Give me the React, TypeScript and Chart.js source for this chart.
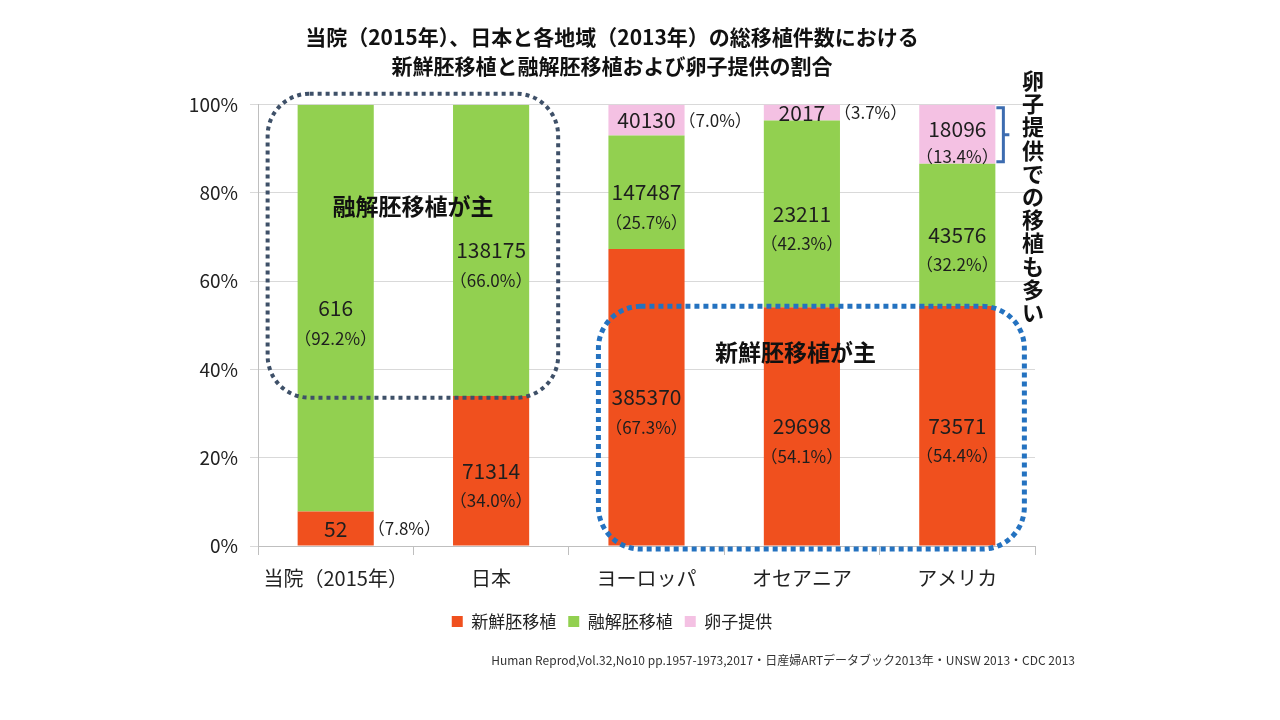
import React, { useEffect, useRef } from 'react';
import { Chart, registerables } from 'chart.js';

Chart.register(...registerables);

const categories = ['当院（2015年）', '日本', 'ヨーロッパ', 'オセアニア', 'アメリカ'];
const seriesNames = ['新鮮胚移植', '融解胚移植', '卵子提供'];
const freshPct = [7.8, 34.0, 67.3, 54.1, 54.4];
const frozenPct = [92.2, 66.0, 25.7, 42.3, 32.2];
const eggPct = [0, 0, 7.0, 3.7, 13.4];
const freshCount: (number | null)[] = [52, 71314, 385370, 29698, 73571];
const frozenCount: (number | null)[] = [616, 138175, 147487, 23211, 43576];
const eggCount: (number | null)[] = [null, null, 40130, 2017, 18096];
const titleLines = [
  '当院（2015年）、日本と各地域（2013年）の総移植件数における',
  '新鮮胚移植と融解胚移植および卵子提供の割合',
];
const sourceText =
  'Human Reprod,Vol.32,No10 pp.1957-1973,2017・日産婦ARTデータブック2013年・UNSW 2013・CDC 2013';
const noteFrozen = '融解胚移植が主';
const noteFresh = '新鮮胚移植が主';
const noteEgg = '卵子提供での移植も多い';

const FONT = '"Noto Sans CJK JP", "Noto Sans", sans-serif';
const colors = ['#f0501e', '#92d050', '#f4c1e3'];

const labelPlugin = {
  id: 'segLabels',
  afterDatasetsDraw(chart: any) {
    const ctx = chart.ctx;
    const counts = [freshCount, frozenCount, eggCount];
    const pcts = [freshPct, frozenPct, eggPct];
    ctx.save();
    ctx.fillStyle = '#1e1e1e';
    for (let d = 0; d < 3; d++) {
      const meta = chart.getDatasetMeta(d);
      meta.data.forEach((el: any, j: number) => {
        const c = counts[d][j];
        if (c == null) return;
        const top = Math.max(el.y, chart.chartArea.top);
        const bottom = el.base;
        const h = bottom - top;
        const cy = (top + bottom) / 2;
        const pctText = '（' + pcts[d][j].toFixed(1) + '%）';
        ctx.textBaseline = 'middle';
        if (h < 45) {
          ctx.font = '21px ' + FONT;
          ctx.textAlign = 'center';
          ctx.fillText(String(c), el.x, cy);
          ctx.font = '17px ' + FONT;
          ctx.textAlign = 'left';
          ctx.fillText(pctText, el.x + el.width / 2 - 6, cy);
        } else if (h < 80) {
          ctx.font = '21px ' + FONT;
          ctx.textAlign = 'center';
          ctx.fillText(String(c), el.x, cy - 5);
          ctx.font = '17px ' + FONT;
          ctx.fillText(pctText, el.x, cy + 22);
        } else {
          ctx.font = '21px ' + FONT;
          ctx.textAlign = 'center';
          ctx.fillText(String(c), el.x, cy);
          ctx.font = '17px ' + FONT;
          ctx.fillText(pctText, el.x, cy + 30);
        }
      });
    }
    ctx.restore();
  },
};

const annotationPlugin = {
  id: 'notes',
  afterDatasetsDraw(chart: any) {
    const ctx = chart.ctx;
    const x = chart.scales.x;
    const y = chart.scales.y;
    const area = chart.chartArea;
    const fresh = chart.getDatasetMeta(0).data;
    const egg = chart.getDatasetMeta(2).data;
    const half = fresh[0].width / 2;
    ctx.save();
    // box 1 (frozen main)
    ctx.strokeStyle = '#3e5068';
    ctx.lineWidth = 4;
    ctx.setLineDash([4, 4]);
    const l1 = x.getPixelForValue(0) - half - 30;
    const r1 = x.getPixelForValue(1) + half + 29;
    const t1 = y.getPixelForValue(100) - 11;
    const b1 = y.getPixelForValue(33.6);
    ctx.beginPath();
    ctx.roundRect(l1, t1, r1 - l1, b1 - t1, 42);
    ctx.stroke();
    // box 2 (fresh main)
    ctx.strokeStyle = '#2472c0';
    ctx.lineWidth = 5;
    ctx.setLineDash([5, 4]);
    const l2 = x.getPixelForValue(2) - half - 10;
    const r2 = x.getPixelForValue(4) + half + 29;
    const t2 = y.getPixelForValue(54.3);
    const b2 = y.getPixelForValue(0) + 3;
    ctx.beginPath();
    ctx.roundRect(l2, t2, r2 - l2, b2 - t2, 42);
    ctx.stroke();
    ctx.setLineDash([]);
    // notes text
    ctx.fillStyle = '#111';
    ctx.font = 'bold 23px ' + FONT;
    ctx.textAlign = 'center';
    ctx.textBaseline = 'middle';
    ctx.fillText(noteFrozen, (l1 + r1) / 2, y.getPixelForValue(77));
    ctx.fillText(noteFresh, (l2 + r2) / 2 - 16, y.getPixelForValue(44));
    // bracket
    const eg = egg[4];
    const bx = eg.x + eg.width / 2 + 8;
    const bt = Math.max(eg.y, area.top) + 3;
    const bb = eg.base - 2;
    ctx.strokeStyle = '#3d6cb0';
    ctx.lineWidth = 3;
    ctx.beginPath();
    ctx.moveTo(bx - 7, bt);
    ctx.lineTo(bx, bt);
    ctx.lineTo(bx, bb);
    ctx.lineTo(bx - 7, bb);
    ctx.moveTo(bx, (bt + bb) / 2);
    ctx.lineTo(bx + 6, (bt + bb) / 2);
    ctx.stroke();
    // vertical text
    ctx.fillStyle = '#111';
    ctx.font = 'bold 22px ' + FONT;
    const vx = area.right - 2;
    let vy = y.getPixelForValue(100) - 24;
    for (const ch of noteEgg) {
      ctx.fillText(ch, vx, vy);
      vy += 23.2;
    }
    // source
    ctx.fillStyle = '#333';
    ctx.font = '12px ' + FONT;
    ctx.textAlign = 'right';
    ctx.fillText(sourceText, area.right + 40, y.getPixelForValue(0) + 114);
    ctx.restore();
  },
};

export default function App() {
  const ref = useRef<HTMLCanvasElement | null>(null);
  useEffect(() => {
    if (!ref.current) return;
    const chart = new Chart(ref.current, {
      type: 'bar',
      data: {
        labels: categories,
        datasets: [
          { label: seriesNames[0], data: freshPct, backgroundColor: colors[0] },
          { label: seriesNames[1], data: frozenPct, backgroundColor: colors[1] },
          { label: seriesNames[2], data: eggPct, backgroundColor: colors[2] },
        ],
      },
      options: {
        animation: false,
        responsive: true,
        maintainAspectRatio: false,
        layout: { padding: { left: 189, right: 245, top: 0, bottom: 80 } },
        datasets: { bar: { categoryPercentage: 1, barPercentage: 0.49 } },
        scales: {
          x: {
            stacked: true,
            grid: { display: true, drawOnChartArea: false, drawTicks: true, tickLength: 9, color: '#bfbfbf' },
            border: { display: true, color: '#bfbfbf' },
            ticks: { color: '#222', font: { family: FONT, size: 20 }, padding: 11 },
          },
          y: {
            stacked: true,
            min: 0,
            max: 100,
            afterFit: (s: any) => { s.width = 69; },
            grid: { color: '#d9d9d9', tickLength: 8 },
            border: { display: true, color: '#bfbfbf' },
            ticks: {
              stepSize: 20,
              color: '#222',
              padding: 12,
              font: { family: FONT, size: 19 },
              callback: (v: any) => v + '%',
            },
          },
        },
        plugins: {
          title: {
            display: true,
            text: titleLines,
            color: '#111',
            font: { family: FONT, size: 21, weight: 'bold', lineHeight: 1.35 },
            padding: { top: 23, bottom: 25 },
          },
          legend: {
            position: 'bottom',
            labels: {
              color: '#222',
              font: { family: FONT, size: 17 },
              boxWidth: 11,
              boxHeight: 11,
              padding: 12,
            },
          },
          tooltip: { enabled: false },
        },
      },
      plugins: [labelPlugin, annotationPlugin],
    });
    return () => chart.destroy();
  }, []);
  return (
    <div style={{ position: 'fixed', left: 0, top: 0, width: 1280, height: 720, background: '#fff' }}>
      <canvas ref={ref} />
    </div>
  );
}
